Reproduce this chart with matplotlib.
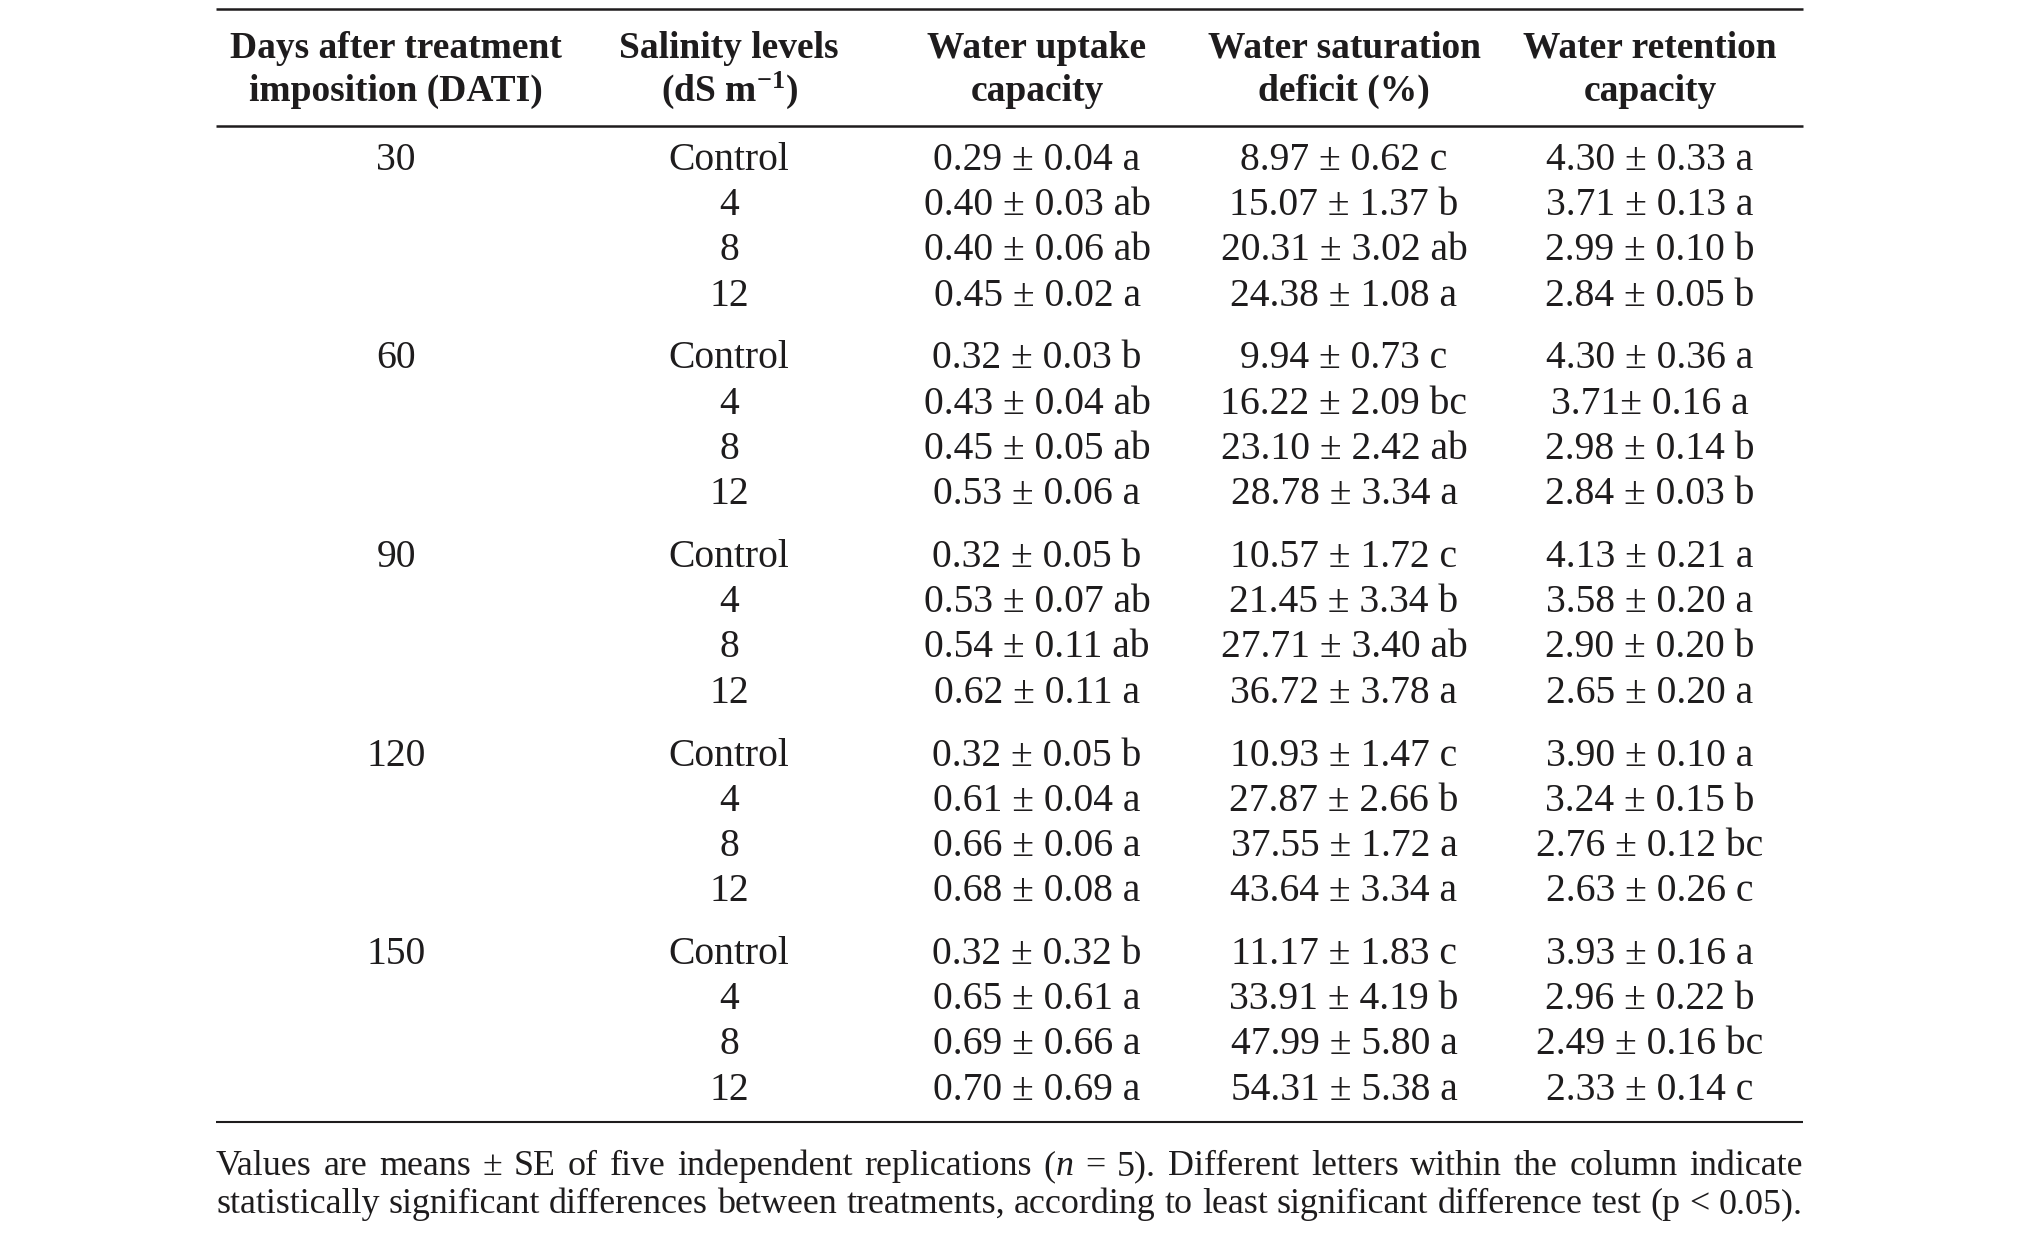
import matplotlib.pyplot as plt

plt.rcParams['font.family'] = ['Liberation Serif', 'DejaVu Serif']
plt.rcParams['mathtext.fontset'] = 'custom'
plt.rcParams['mathtext.rm'] = 'Liberation Serif'
plt.rcParams['mathtext.bf'] = 'Liberation Serif:bold'
plt.rcParams['mathtext.it'] = 'Liberation Serif:italic'

# Table data
days = [30, 60, 90, 120, 150]
levels = ["Control", "4", "8", "12"]

uptake_mean = [[0.29, 0.40, 0.40, 0.45], [0.32, 0.43, 0.45, 0.53], [0.32, 0.53, 0.54, 0.62],
               [0.32, 0.61, 0.66, 0.68], [0.32, 0.65, 0.69, 0.70]]
uptake_se = [[0.04, 0.03, 0.06, 0.02], [0.03, 0.04, 0.05, 0.06], [0.05, 0.07, 0.11, 0.11],
             [0.05, 0.04, 0.06, 0.08], [0.32, 0.61, 0.66, 0.69]]
uptake_letter = [["a", "ab", "ab", "a"], ["b", "ab", "ab", "a"], ["b", "ab", "ab", "a"],
                 ["b", "a", "a", "a"], ["b", "a", "a", "a"]]

deficit_mean = [[8.97, 15.07, 20.31, 24.38], [9.94, 16.22, 23.10, 28.78], [10.57, 21.45, 27.71, 36.72],
                [10.93, 27.87, 37.55, 43.64], [11.17, 33.91, 47.99, 54.31]]
deficit_se = [[0.62, 1.37, 3.02, 1.08], [0.73, 2.09, 2.42, 3.34], [1.72, 3.34, 3.40, 3.78],
              [1.47, 2.66, 1.72, 3.34], [1.83, 4.19, 5.80, 5.38]]
deficit_letter = [["c", "b", "ab", "a"], ["c", "bc", "ab", "a"], ["c", "b", "ab", "a"],
                  ["c", "b", "a", "a"], ["c", "b", "a", "a"]]

retention_mean = [[4.30, 3.71, 2.99, 2.84], [4.30, 3.71, 2.98, 2.84], [4.13, 3.58, 2.90, 2.65],
                  [3.90, 3.24, 2.76, 2.63], [3.93, 2.96, 2.49, 2.33]]
retention_se = [[0.33, 0.13, 0.10, 0.05], [0.36, 0.16, 0.14, 0.03], [0.21, 0.20, 0.20, 0.20],
                [0.10, 0.15, 0.12, 0.26], [0.16, 0.22, 0.16, 0.14]]
retention_letter = [["a", "a", "b", "b"], ["a", "a", "b", "b"], ["a", "a", "b", "a"],
                    ["a", "b", "bc", "c"], ["a", "b", "bc", "c"]]

# cells printed without the space before "±" in the source
tight_cells = {("retention", 1, 1)}

headers = [("Days after treatment", "imposition (DATI)"),
           ("Salinity levels", r"(dS m$^{\mathbf{-1}}$)"),
           ("Water uptake", "capacity"),
           ("Water saturation", "deficit (%)"),
           ("Water retention", "capacity")]

note_lines = [
    ["Values", "are", "means", "±", "SE", "of", "five", "independent", "replications",
     [("(", "normal"), ("n", "italic")], "=", "5).", "Different", "letters", "within", "the",
     "column", "indicate"],
    ["statistically", "significant", "differences", "between", "treatments,", "according", "to",
     "least", "significant", "difference", "test", "(p", "<", "0.05)."],
]

INK = "#1e1c1d"
FS = 28.5
FS_HEAD = 27
col_x = [396, 729, 1037, 1344, 1650]
left, right = 216, 1803


def cell(kind, means, ses, letters, g, r):
    sep = "± " if (kind, g, r) in tight_cells else " ± "
    return f"{means[g][r]:.2f}{sep}{ses[g][r]:.2f} {letters[g][r]}"


fig = plt.figure(figsize=(20.19, 12.34), dpi=100)
ax = fig.add_axes([0, 0, 1, 1])
ax.set_xlim(0, 2019)
ax.set_ylim(1234, 0)
ax.axis("off")

# rules
ax.hlines([9, 126], left, right, color=INK, lw=1.8)
ax.hlines([1122], left, right, color=INK, lw=1.5)

# header
for x, (l1, l2) in zip(col_x, headers):
    ax.text(x, 58, l1, ha="center", va="baseline", fontsize=FS_HEAD, fontweight="bold", color=INK)
    ax.text(x, 101, l2, ha="center", va="baseline", fontsize=FS_HEAD, fontweight="bold", color=INK)

# body
for g, d in enumerate(days):
    for r, lev in enumerate(levels):
        y = 170 + g * 198.5 + r * 45.2
        row = [str(d) if r == 0 else "", lev,
               cell("uptake", uptake_mean, uptake_se, uptake_letter, g, r),
               cell("deficit", deficit_mean, deficit_se, deficit_letter, g, r),
               cell("retention", retention_mean, retention_se, retention_letter, g, r)]
        for x, s in zip(col_x, row):
            if s:
                ax.text(x, y, s, ha="center", va="baseline", fontsize=FS, color=INK)

# justified footnote
fig.canvas.draw()
renderer = fig.canvas.get_renderer()


def place_word(word, x, y, size, draw=True):
    runs = [(word, "normal")] if isinstance(word, str) else word
    for s, style in runs:
        t = ax.text(x, y, s, ha="left", va="baseline", fontsize=size, color=INK, style=style)
        w = t.get_window_extent(renderer).width
        if not draw:
            t.remove()
        x += w
    return x


# pick the note size so the tighter line fits with ordinary word spaces
avail = right - left
scale = []
for words in note_lines:
    total = sum(place_word(w, 0, 0, FS, draw=False) for w in words)
    space = 0.25 * FS * 100 / 72
    scale.append(avail / (total + space * (len(words) - 1)))
fs_note = FS * min(scale)

for y, words in zip([1175, 1213], note_lines):
    widths = [place_word(w, 0, y, fs_note, draw=False) for w in words]
    gap = (avail - sum(widths)) / (len(words) - 1)
    x = left
    for w, wd in zip(words, widths):
        place_word(w, x, y, fs_note)
        x += wd + gap

fig.savefig("out.png", dpi=100)
